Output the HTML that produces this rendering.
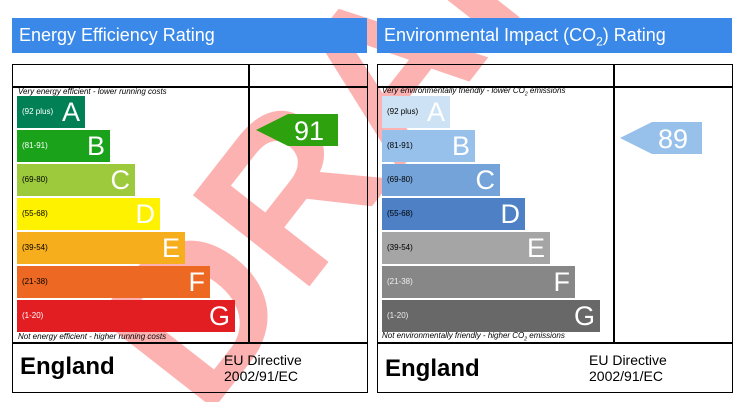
<!DOCTYPE html>
<html><head><meta charset="utf-8"><style>
body{margin:0;width:740px;height:402px;background:#fff;position:relative;overflow:hidden;font-family:"Liberation Sans",Arial,sans-serif}
.a{position:absolute}
.hdr{background:#3a89e9;color:#fff;font-size:18px;line-height:35px;padding-left:7px;box-sizing:border-box;height:35px;top:18px;white-space:nowrap}
.box{border:1.5px solid #000;box-sizing:border-box;top:64px;height:329px}
.ln{background:#000}
.bar{height:32px;box-sizing:border-box;padding-left:5px}
.bar .r{position:absolute;left:5px;top:11px;font-size:8px}
.bar .l{position:absolute;right:5px;top:-1px;font-size:27px;color:#fff;line-height:34px}
.note{font-size:8px;font-style:italic;color:#000;white-space:nowrap;line-height:9px}
.eng{font-weight:bold;font-size:24px}
.eu{font-size:14px;line-height:16px}
</style></head><body>
<svg class="a" style="left:0;top:0" width="740" height="402"><text x="0" y="0" transform="translate(205,420) rotate(-52)" font-family="Liberation Sans" font-weight="bold" font-size="215" fill="#fdb2b2">DRAFT</text></svg>

<div class="a hdr" style="left:12px;width:355px">Energy Efficiency Rating</div>
<div class="a box" style="left:12px;width:356px"></div>
<div class="a ln" style="left:12px;top:86px;width:356px;height:1.5px"></div>
<div class="a ln" style="left:12px;top:342px;width:356px;height:1.5px"></div>
<div class="a ln" style="left:248px;top:64px;width:1.5px;height:279px"></div>
<div class="a note" style="left:18px;top:87px">Very energy efficient - lower running costs</div>
<div class="a note" style="left:18px;top:332px">Not energy efficient - higher running costs</div>
<div class="a bar" style="left:17px;top:96px;width:68px;background:#008054"><span class="r" style="color:#fff">(92 plus)</span><span class="l">A</span></div>
<div class="a bar" style="left:17px;top:130px;width:93px;background:#19a21a"><span class="r" style="color:#fff">(81-91)</span><span class="l">B</span></div>
<div class="a bar" style="left:17px;top:164px;width:118px;background:#9dca3c"><span class="r">(69-80)</span><span class="l">C</span></div>
<div class="a bar" style="left:17px;top:198px;width:143px;background:#fff200"><span class="r">(55-68)</span><span class="l">D</span></div>
<div class="a bar" style="left:17px;top:232px;width:168px;background:#f6ae1d"><span class="r">(39-54)</span><span class="l">E</span></div>
<div class="a bar" style="left:17px;top:266px;width:193px;background:#ed6823"><span class="r">(21-38)</span><span class="l">F</span></div>
<div class="a bar" style="left:17px;top:300px;width:218px;background:#e21e23"><span class="r" style="color:#fff">(1-20)</span><span class="l">G</span></div>
<svg class="a" style="left:256px;top:114px" width="82" height="33"><polygon points="0,16 32,0 82,0 82,32 32,32" fill="#2da10e"/><text x="68" y="26" text-anchor="end" font-family="Liberation Sans" font-size="27" fill="#fff">91</text></svg>
<div class="a eng" style="left:20px;top:353px">England</div>
<div class="a eu" style="left:224px;top:352px">EU Directive<br>2002/91/EC</div>

<div class="a hdr" style="left:377px;width:355px">Environmental Impact (CO<sub style="font-size:12px;line-height:0">2</sub>) Rating</div>
<div class="a box" style="left:377px;width:356px"></div>
<div class="a ln" style="left:377px;top:86px;width:356px;height:1.5px"></div>
<div class="a ln" style="left:377px;top:342px;width:356px;height:1.5px"></div>
<div class="a ln" style="left:613px;top:64px;width:1.5px;height:279px"></div>
<div class="a note" style="left:382px;top:86px">Very environmentally friendly - lower CO<sub style="font-size:5px;line-height:0">2</sub> emissions</div>
<div class="a note" style="left:382px;top:331px">Not environmentally friendly - higher CO<sub style="font-size:5px;line-height:0">2</sub> emissions</div>
<div class="a bar" style="left:382px;top:96px;width:68px;background:#cde2f5"><span class="r">(92 plus)</span><span class="l">A</span></div>
<div class="a bar" style="left:382px;top:130px;width:93px;background:#97c0ea"><span class="r">(81-91)</span><span class="l">B</span></div>
<div class="a bar" style="left:382px;top:164px;width:118px;background:#73a3d8"><span class="r">(69-80)</span><span class="l">C</span></div>
<div class="a bar" style="left:382px;top:198px;width:143px;background:#4d80c4"><span class="r">(55-68)</span><span class="l">D</span></div>
<div class="a bar" style="left:382px;top:232px;width:168px;background:#a5a5a5"><span class="r">(39-54)</span><span class="l">E</span></div>
<div class="a bar" style="left:382px;top:266px;width:193px;background:#878787"><span class="r" style="color:#eee">(21-38)</span><span class="l">F</span></div>
<div class="a bar" style="left:382px;top:300px;width:218px;background:#686868"><span class="r" style="color:#eee">(1-20)</span><span class="l">G</span></div>
<svg class="a" style="left:620px;top:122px" width="82" height="33"><polygon points="0,16 32,0 82,0 82,32 32,32" fill="#97c0ea"/><text x="68" y="26" text-anchor="end" font-family="Liberation Sans" font-size="27" fill="#fff">89</text></svg>
<div class="a eng" style="left:385px;top:355px">England</div>
<div class="a eu" style="left:589px;top:352px">EU Directive<br>2002/91/EC</div>
</body></html>
